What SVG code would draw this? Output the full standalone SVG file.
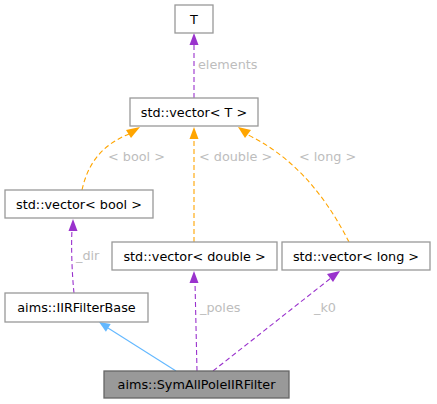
<svg xmlns="http://www.w3.org/2000/svg" width="437" height="404" viewBox="0 0 437 404">
<style>
.box{fill:#fff;stroke:#999;stroke-width:1.3}
.t{font-family:"DejaVu Sans",sans-serif;font-size:12.8px;fill:#000;text-anchor:middle}
.lbl{font-family:"DejaVu Sans",sans-serif;font-size:12.8px;fill:#bdbdbd}
.p{fill:none;stroke:#9a32cd;stroke-width:1.1;stroke-dasharray:5,3}
.o{fill:none;stroke:#ffa500;stroke-width:1.1;stroke-dasharray:5,3}
.b{fill:none;stroke:#63b8ff;stroke-width:1.1}
</style>
<rect width="437" height="404" fill="#fff"/>
<g id="connectors">
<path class="p" d="M194,98 V44"/><polygon fill="#9a32cd" points="194,33 189.5,45 198.5,45"/>
<text class="lbl" x="198" y="69">elements</text>
<path class="o" d="M82,190 C88,163 102,145 129,134"/><polygon fill="#ffa500" points="140,127 126,130 131,138"/>
<text class="lbl" x="108" y="161">&lt; bool &gt;</text>
<path class="o" d="M194,242 V138"/><polygon fill="#ffa500" points="194,127 189.5,139 198.5,139"/>
<text class="lbl" x="199" y="161">&lt; double &gt;</text>
<path class="o" d="M349,242 C330,205 300,160 248,135"/><polygon fill="#ffa500" points="238,127 245,138 251,130"/>
<text class="lbl" x="299" y="161">&lt; long &gt;</text>
<path class="p" d="M74,293 C72,275 71,245 72,230"/><polygon fill="#9a32cd" points="73,219 68.5,231 77.5,231"/>
<text class="lbl" x="76" y="260">_dir</text>
<path class="b" d="M176,371 L108,328"/><polygon fill="#63b8ff" points="99,322 105.9,331.7 110.7,324.1"/>
<path class="p" d="M197,371 L195,282"/><polygon fill="#9a32cd" points="194,271 189.5,283 198.5,283"/>
<text class="lbl" x="200" y="312">_poles</text>
<path class="p" d="M213,371 L331,278"/><polygon fill="#9a32cd" points="340,271 327,274 333,282"/>
<text class="lbl" x="314" y="312">_k0</text>
</g>
<g id="node-T"><rect class="box" x="175" y="5" width="38" height="28"/><text class="t" x="194" y="23.5">T</text></g>
<g id="node-vecT"><rect class="box" x="130" y="98" width="128" height="28"/><text class="t" x="194" y="116.5">std::vector&lt; T &gt;</text></g>
<g id="node-vecBool"><rect class="box" x="5" y="190" width="148" height="28"/><text class="t" x="79" y="208.5">std::vector&lt; bool &gt;</text></g>
<g id="node-vecDouble"><rect class="box" x="112" y="242" width="165" height="28"/><text class="t" x="194.5" y="260.5">std::vector&lt; double &gt;</text></g>
<g id="node-vecLong"><rect class="box" x="282" y="242" width="148" height="28"/><text class="t" x="356" y="260.5">std::vector&lt; long &gt;</text></g>
<g id="node-IIRFilterBase"><rect class="box" x="5" y="293" width="143" height="29"/><text class="t" x="76.5" y="312">aims::IIRFilterBase</text></g>
<g id="node-SymAllPole"><rect x="104" y="371" width="185" height="27" fill="#999" stroke="#666" stroke-width="1.3"/><text class="t" x="196.5" y="389">aims::SymAllPoleIIRFilter</text></g>
</svg>
